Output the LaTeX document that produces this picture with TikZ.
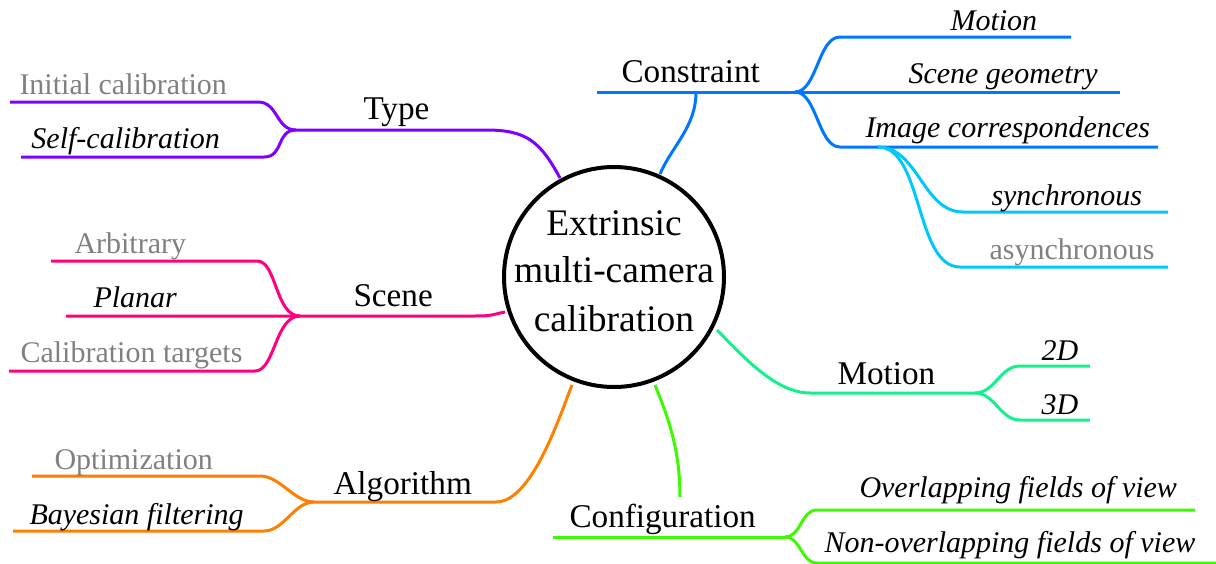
\documentclass[tikz,border=0pt]{standalone}
\usepackage{fontspec}
\setmainfont{Liberation Serif}
\definecolor{typec}{RGB}{128,0,255}
\definecolor{consc}{RGB}{0,119,255}
\definecolor{imgc}{RGB}{0,200,255}
\definecolor{scenec}{RGB}{255,0,128}
\definecolor{algc}{RGB}{255,128,0}
\definecolor{motc}{RGB}{20,240,140}
\definecolor{confc}{RGB}{60,250,0}
\definecolor{grayt}{RGB}{128,128,128}
\begin{document}
\begin{tikzpicture}[x=0.5pt,y=-0.5pt,line width=1.5pt,
  leaf/.style={font=\fontsize{15}{18}\selectfont,anchor=base west,inner sep=0pt},
  leafi/.style={font=\fontsize{15}{18}\selectfont\itshape,anchor=base west,inner sep=0pt},
  leafg/.style={leaf,text=grayt},
  branch/.style={font=\fontsize{16.6}{20}\selectfont,anchor=base west,inner sep=0pt},
  ctext/.style={font=\fontsize{18.75}{24}\selectfont,anchor=base,inner sep=0pt}]
\useasboundingbox (0,0) rectangle (1216,563);

% centre
\node (c) [circle,draw,line width=2pt,minimum size=110pt,inner sep=0pt] at (614,277) {};
\node (ct1) [ctext] at (614,235) {Extrinsic};
\node (ct2) [ctext] at (614,282) {multi-camera};
\node (ct3) [ctext] at (614,331) {calibration};

% ---------- Type
\coordinate (tA) at (560,178);
\coordinate (tB) at (486,130);
\coordinate (tF) at (296,130);
\coordinate (ti1) at (258,102); \coordinate (ti0) at (10,102);
\coordinate (ts1) at (264,157); \coordinate (ts0) at (21,157);
\draw[typec] (tA) .. controls +(-20,-37) and +(40,0) .. (tB) -- (tF);
\draw[typec] (tF) .. controls +(-20,0) and +(20,0) .. (ti1) -- (ti0);
\draw[typec] (tF) .. controls +(-20,0) and +(20,0) .. (ts1) -- (ts0);
\node (type) [branch] at (362,119) {Type};
\node (tinit) [leafg] at (18,94) {Initial calibration};
\node (tself) [leafi] at (30,148) {Self-calibration};

% ---------- Constraint
\coordinate (cA) at (660,174);
\coordinate (cB) at (696,92);
\coordinate (cs0) at (597,92);
\coordinate (cF) at (795,92);
\coordinate (cm1) at (840,37); \coordinate (cm2) at (1071,37);
\coordinate (cg2) at (1120,92);
\coordinate (ci1) at (840,147); \coordinate (ci2) at (1158,147);
\draw[consc] (cA) .. controls +(12,-28) and +(0,35) .. (cB);
\draw[consc] (cs0) -- (cF) -- (cg2);
\draw[consc] (cF) .. controls +(22,0) and +(-22,0) .. (cm1) -- (cm2);
\draw[consc] (cF) .. controls +(22,0) and +(-22,0) .. (ci1) -- (ci2);
\node (cons) [branch] at (620,82) {Constraint};
\node (cmot) [leafi] at (949,30) {Motion};
\node (cgeo) [leafi] at (907,83) {Scene geometry};
\node (cimg) [leafi] at (864,137) {Image correspondences};

% image correspondences sub-branches
\coordinate (iF) at (878,147);
\coordinate (is1) at (963,212); \coordinate (is2) at (1168,212);
\coordinate (ia1) at (960,267); \coordinate (ia2) at (1168,267);
\draw[imgc] (iF) .. controls +(40,0) and +(-40,0) .. (is1) -- (is2);
\draw[imgc] (iF) .. controls +(45,0) and +(-45,0) .. (ia1) -- (ia2);
\node (isync) [leafi] at (990,205) {synchronous};
\node (iasync) [leafg] at (988,259) {asynchronous};

% ---------- Scene
\coordinate (sA) at (505,312);
\coordinate (sB) at (473,316);
\coordinate (sF) at (300,316);
\coordinate (sa1) at (257,261); \coordinate (sa0) at (51,261);
\coordinate (sp0) at (66,316);
\coordinate (sc1) at (255,371); \coordinate (sc0) at (9,371);
\draw[scenec] (sA) .. controls +(-15,3) and +(20,0) .. (sB) -- (sF) -- (sp0);
\draw[scenec] (sF) .. controls +(-25,0) and +(20,0) .. (sa1) -- (sa0);
\draw[scenec] (sF) .. controls +(-25,0) and +(20,0) .. (sc1) -- (sc0);
\node (scene) [branch] at (352,306) {Scene};
\node (sarb) [leafg] at (73,253) {Arbitrary};
\node (splan) [leafi] at (92,307) {Planar};
\node (scal) [leafg] at (19,362) {Calibration targets};

% ---------- Algorithm
\coordinate (aA) at (572,385);
\coordinate (aB) at (496,502);
\coordinate (aF) at (314,502);
\coordinate (ao1) at (260,476); \coordinate (ao0) at (32,476);
\coordinate (ab1) at (264,531); \coordinate (ab0) at (13,531);
\draw[algc] (aA) .. controls +(-14,36) and +(35,0) .. (aB) -- (aF);
\draw[algc] (aF) .. controls +(-20,0) and +(20,0) .. (ao1) -- (ao0);
\draw[algc] (aF) .. controls +(-20,0) and +(20,0) .. (ab1) -- (ab0);
\node (alg) [branch] at (332,494) {Algorithm};
\node (aopt) [leafg] at (53,469) {Optimization};
\node (abay) [leafi] at (28,524) {Bayesian filtering};

% ---------- Motion
\coordinate (mA) at (717,330);
\coordinate (mB) at (810,393);
\coordinate (mF) at (975,393);
\coordinate (m21) at (1020,366); \coordinate (m22) at (1090,366);
\coordinate (m31) at (1020,420); \coordinate (m32) at (1090,420);
\draw[motc] (mA) .. controls +(25,25) and +(-35,0) .. (mB) -- (mF);
\draw[motc] (mF) .. controls +(20,0) and +(-20,0) .. (m21) -- (m22);
\draw[motc] (mF) .. controls +(20,0) and +(-20,0) .. (m31) -- (m32);
\node (mot) [branch] at (836,384) {Motion};
\node (m2d) [leafi] at (1040,360) {2D};
\node (m3d) [leafi] at (1040,414) {3D};

% ---------- Configuration
\coordinate (gA) at (655,385);
\coordinate (gB) at (680,497);
\coordinate (g0) at (553,537);
\coordinate (gF) at (785,537);
\coordinate (go1) at (817,510); \coordinate (go2) at (1195,510);
\coordinate (gn1) at (817,563); \coordinate (gn2) at (1216,563);
\draw[confc] (gA) .. controls +(12,30) and +(0,-50) .. (gB);
\draw[confc] (g0) -- (gF);
\draw[confc] (gF) .. controls +(16,0) and +(-16,0) .. (go1) -- (go2);
\draw[confc] (gF) .. controls +(16,0) and +(-16,0) .. (gn1) -- (gn2);
\node (conf) [branch] at (568,527) {Configuration};
\node (cover) [leafi] at (858,497) {Overlapping fields of view};
\node (cnon) [leafi] at (823,552) {Non-overlapping fields of view};
\end{tikzpicture}
\end{document}
